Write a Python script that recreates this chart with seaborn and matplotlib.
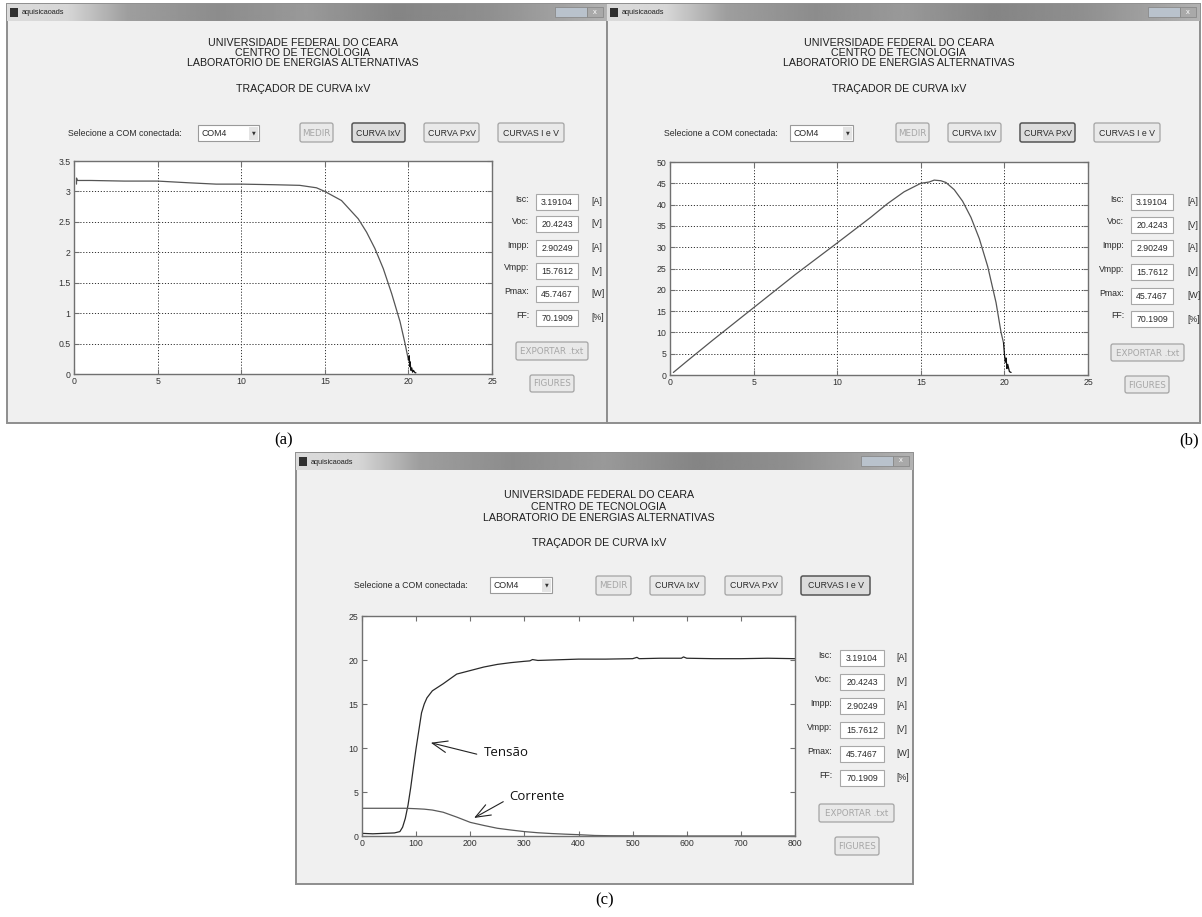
import numpy as np
import matplotlib
matplotlib.use("Agg")
import matplotlib.pyplot as plt
from matplotlib.patches import Rectangle, FancyBboxPatch
import seaborn as sns

# ---------------- data ----------------
iv_voltage = [0.15, 0.15, 0.2, 1, 3, 5, 7, 8.5, 10, 12, 13.5, 14.5, 15, 16, 17, 17.5, 18, 18.5, 19, 19.5, 19.8, 20.0]
iv_current = [3.12, 3.22, 3.18, 3.18, 3.17, 3.17, 3.14, 3.12, 3.12, 3.11, 3.10, 3.06, 3.0, 2.85, 2.55, 2.33, 2.06, 1.73, 1.32, 0.86, 0.5, 0.23]
iv_tail_v = [20.0, 20.05, 20.08, 20.1, 20.15, 20.2, 20.25, 20.3, 20.4, 20.45]
iv_tail_i = [0.23, 0.3, 0.12, 0.2, 0.06, 0.1, 0.03, 0.06, 0.02, 0.02]

pv_voltage = [0.2, 1, 2.5, 5, 7.5, 10, 12, 13, 14, 15, 15.5, 15.8, 16.2, 16.5, 17, 17.5, 18, 18.5, 19, 19.5, 19.8, 19.95]
pv_power = [0.6, 3.2, 8.0, 15.8, 23.6, 31.0, 37.0, 40.2, 43.0, 45.0, 45.3, 45.75, 45.6, 45.2, 43.5, 40.8, 37.0, 32.0, 25.5, 17.0, 10.0, 7.5]
pv_tail_v = [19.95, 20.0, 20.05, 20.1, 20.15, 20.2, 20.3, 20.4]
pv_tail_p = [7.5, 5.0, 3.0, 4.0, 1.5, 2.5, 0.8, 0.6]

t_tensao = [0, 20, 40, 60, 70, 75, 80, 85, 90, 95, 100, 105, 110, 115, 120, 130, 150, 175, 200, 225,
            250, 275, 300, 310, 315, 325, 350, 400, 450, 500, 508, 512, 550, 590, 594, 600, 650, 700, 750, 800]
tensao = [0.3, 0.25, 0.3, 0.35, 0.5, 1.0, 2.0, 3.5, 5.5, 7.8, 10.0, 12.0, 14.0, 15.0, 15.7, 16.5, 17.3, 18.4, 18.8, 19.2,
          19.5, 19.7, 19.85, 19.9, 20.05, 19.95, 20.0, 20.1, 20.1, 20.15, 20.3, 20.15, 20.2, 20.2, 20.35, 20.2, 20.15, 20.15, 20.2, 20.15]
t_corrente = [0, 50, 80, 100, 115, 130, 150, 175, 200, 225, 250, 275, 300, 325, 350, 375, 400, 430, 460, 500, 600, 800]
corrente = [3.15, 3.15, 3.15, 3.1, 3.05, 2.95, 2.7, 2.15, 1.55, 1.2, 0.88, 0.68, 0.5, 0.37, 0.28, 0.21, 0.15, 0.06, 0.03, 0.02, 0.0, 0.0]

param_labels = ["Isc:", "Voc:", "Impp:", "Vmpp:", "Pmax:", "FF:"]
param_values = ["3.19104", "20.4243", "2.90249", "15.7612", "45.7467", "70.1909"]
param_units = ["[A]", "[V]", "[A]", "[V]", "[W]", "[%]"]
header_lines = ["UNIVERSIDADE FEDERAL DO CEARA", "CENTRO DE TECNOLOGIA",
                "LABORATORIO DE ENERGIAS ALTERNATIVAS", "TRAÇADOR DE CURVA IxV"]
button_labels = ["MEDIR", "CURVA IxV", "CURVA PxV", "CURVAS I e V"]
panel_letters = ["(a)", "(b)", "(c)"]

# ---------------- layout (pixels) ----------------
W, H = 1202, 917
panels = [
    dict(win=(7, 4, 607, 423), hcx=303, hy=[43, 53, 63, 89], sel=(68, 133), combo=(198, 259, 125, 141),
         btns=[(300, 333), (352, 405), (424, 479), (498, 564)], by=(123, 142), pressed=1,
         ax=(74, 161, 492, 374), lab=529, box=(536, 578), unit=591, rows=[202, 224, 248, 271, 294, 318],
         exp=(516, 342, 588, 360), fig=(530, 375, 574, 392), letter=(284, 440)),
    dict(win=(607, 4, 1200, 423), hcx=899, hy=[43, 53, 63, 89], sel=(664, 133), combo=(790, 853, 125, 141),
         btns=[(896, 929), (948, 1001), (1020, 1075), (1094, 1160)], by=(123, 142), pressed=2,
         ax=(670, 162, 1088, 375), lab=1124, box=(1131, 1173), unit=1187, rows=[202, 225, 248, 272, 296, 319],
         exp=(1111, 344, 1184, 361), fig=(1125, 376, 1169, 393), letter=(1189, 440)),
    dict(win=(296, 453, 913, 884), hcx=599, hy=[495, 507, 518, 543], sel=(354, 585), combo=(490, 552, 577, 593),
         btns=[(596, 631), (650, 705), (725, 782), (801, 870)], by=(576, 595), pressed=3,
         ax=(362, 616, 795, 836), lab=832, box=(840, 884), unit=896, rows=[658, 682, 706, 730, 754, 778],
         exp=(819, 804, 894, 822), fig=(835, 837, 879, 855), letter=(605, 900)),
]

sns.set_theme(style="white")
plt.rcParams['font.family'] = ['Liberation Sans', 'DejaVu Sans']

fig = plt.figure(figsize=(W / 100, H / 100), dpi=100)
fig.patch.set_facecolor('white')
bg = fig.add_axes([0, 0, 1, 1], zorder=-10)
bg.set_autoscale_on(False)
bg.set_xlim(0, W)
bg.set_ylim(H, 0)
bg.axis('off')

UI = 6.3
txtc = '#2a2a2a'


def rect(x0, y0, x1, y1, fc, ec='none', lw=1.0, z=1):
    bg.add_patch(Rectangle((x0, y0), x1 - x0, y1 - y0, facecolor=fc, edgecolor=ec, lw=lw, zorder=z))


def button(x0, y0, x1, y1, label, pressed=False, disabled=False):
    fc = '#dcdcdc' if pressed else '#e9e9e9'
    ec = '#555555' if pressed else '#a4a4a4'
    bg.add_patch(FancyBboxPatch((x0, y0), x1 - x0, y1 - y0, boxstyle="round,pad=0,rounding_size=2",
                                facecolor=fc, edgecolor=ec, lw=1.1 if pressed else 0.9, zorder=3))
    bg.text((x0 + x1) / 2, (y0 + y1) / 2 + 0.5, label, ha='center', va='center', fontsize=UI,
            family=['DejaVu Sans'] if disabled else ['Liberation Sans', 'DejaVu Sans'],
            color='#a6a6a6' if disabled else txtc, zorder=4)


grad_profile = np.interp(np.linspace(0, 1, 300), [0, 0.1, 0.2, 0.35, 0.5, 0.65, 0.8, 0.9, 1.0],
                         [0.86, 0.84, 0.62, 0.55, 0.6, 0.52, 0.56, 0.62, 0.7])

for p in panels:
    x0, y0, x1, y1 = p['win']
    rect(x0, y0, x1, y1, '#f0f0f0', '#8e8e8e', 1.4, z=1)
    bg.imshow(np.tile(grad_profile, (4, 1)), cmap='gray', vmin=0, vmax=1, aspect='auto',
              extent=(x0, x1, y0 + 17, y0), zorder=2, interpolation='bilinear')
    rect(x0 + 3, y0 + 4, x0 + 11, y0 + 13, '#303030', z=3)
    bg.text(x0 + 15, y0 + 9, "aquisicaoads", fontsize=5.3, color='#222222', va='center', ha='left', zorder=3)
    rect(x1 - 52, y0 + 3, x1 - 20, y0 + 13, '#b9c2cc', '#8a8a8a', 0.6, z=3)
    rect(x1 - 20, y0 + 3, x1 - 4, y0 + 13, '#a9a9a9', '#8a8a8a', 0.6, z=3)
    bg.text(x1 - 12, y0 + 8, "x", fontsize=5.5, color='white', ha='center', va='center', zorder=4)
    for line, yy in zip(header_lines, p['hy']):
        bg.text(p['hcx'], yy, line, ha='center', va='center', fontsize=7.7, color='#1e1e1e', zorder=3)
    sx, sy = p['sel']
    bg.text(sx, sy, "Selecione a COM conectada:", ha='left', va='center', fontsize=UI, color=txtc, zorder=3)
    c0, c1, cy0, cy1 = p['combo']
    rect(c0, cy0, c1, cy1, 'white', '#9a9a9a', 0.8, z=3)
    rect(c1 - 10, cy0 + 1.5, c1 - 1.5, cy1 - 1.5, '#e4e4e4', 'none', z=3)
    bg.text(c0 + 4, (cy0 + cy1) / 2 + 0.5, "COM4", ha='left', va='center', fontsize=UI, color=txtc, zorder=4)
    bg.text(c1 - 5.5, (cy0 + cy1) / 2, "▼", ha='center', va='center', fontsize=3.5, color='#333333',
            family='DejaVu Sans', zorder=4)
    for i, (bx0, bx1) in enumerate(p['btns']):
        button(bx0, p['by'][0], bx1, p['by'][1], button_labels[i], pressed=(i == p['pressed']), disabled=(i == 0))
    for lab, val, un, yy in zip(param_labels, param_values, param_units, p['rows']):
        bg.text(p['lab'], yy - 3, lab, ha='right', va='center', fontsize=UI, color=txtc, zorder=3)
        rect(p['box'][0], yy - 8, p['box'][1], yy + 8, 'white', '#a8a8a8', 0.8, z=3)
        bg.text((p['box'][0] + p['box'][1]) / 2, yy + 0.5, val, ha='center', va='center', fontsize=UI,
                color=txtc, zorder=4)
        bg.text(p['unit'], yy, un, ha='left', va='center', fontsize=UI, color=txtc, zorder=3)
    button(*p['exp'][:2], *p['exp'][2:], "EXPORTAR .txt", disabled=True)
    button(*p['fig'][:2], *p['fig'][2:], "FIGURES", disabled=True)

for p, letter in zip(panels, panel_letters):
    bg.text(p['letter'][0], p['letter'][1], letter, ha='center', va='center', fontsize=12,
            family='Liberation Serif', color='black', zorder=3)


def make_axes(p):
    x0, y0, x1, y1 = p['ax']
    ax = fig.add_axes([x0 / W, 1 - y1 / H, (x1 - x0) / W, (y1 - y0) / H], zorder=1)
    ax.set_facecolor('white')
    for s in ax.spines.values():
        s.set_color('#707070')
        s.set_linewidth(1.0)
        s.set_visible(True)
    ax.tick_params(direction='in', length=3.5, width=0.8, color='#707070', top=True, right=True,
                   bottom=True, left=True, labelsize=6.3, labelcolor='#333333', pad=2.5)
    return ax


def fmt(v):
    return ("%g" % v)


axa = make_axes(panels[0])
sns.lineplot(x=iv_voltage, y=iv_current, ax=axa, color='#555555', lw=0.9, sort=False, estimator=None)
sns.lineplot(x=iv_tail_v, y=iv_tail_i, ax=axa, color='#111111', lw=0.9, sort=False, estimator=None)
axa.set_xlim(0, 25)
axa.set_ylim(0, 3.5)
xt = [0, 5, 10, 15, 20, 25]
yt = [0, 0.5, 1, 1.5, 2, 2.5, 3, 3.5]
axa.set_xticks(xt, [fmt(v) for v in xt])
axa.set_yticks(yt, [fmt(v) for v in yt])
axa.grid(True, linestyle=(0, (1.2, 1.8)), color='#333333', linewidth=0.7)

axb = make_axes(panels[1])
sns.lineplot(x=pv_voltage, y=pv_power, ax=axb, color='#555555', lw=0.9, sort=False, estimator=None)
sns.lineplot(x=pv_tail_v, y=pv_tail_p, ax=axb, color='#111111', lw=0.9, sort=False, estimator=None)
axb.set_xlim(0, 25)
axb.set_ylim(0, 50)
ytb = list(range(0, 55, 5))
axb.set_xticks(xt, [fmt(v) for v in xt])
axb.set_yticks(ytb, [fmt(v) for v in ytb])
axb.grid(True, linestyle=(0, (1.2, 1.8)), color='#333333', linewidth=0.7)

axc = make_axes(panels[2])
sns.lineplot(x=t_tensao, y=tensao, ax=axc, color='#2a2a2a', lw=0.9, sort=False, estimator=None)
sns.lineplot(x=t_corrente, y=corrente, ax=axc, color='#5a5a5a', lw=0.9, sort=False, estimator=None)
axc.set_xlim(0, 800)
axc.set_ylim(0, 25)
xtc = list(range(0, 900, 100))
ytc = list(range(0, 30, 5))
axc.set_xticks(xtc, [fmt(v) for v in xtc])
axc.set_yticks(ytc, [fmt(v) for v in ytc])
axc.grid(False)
arrow = dict(arrowstyle='->,head_length=0.9,head_width=0.35', color='#222222', lw=0.8, shrinkA=0, shrinkB=0)
axc.annotate("", xy=(127, 10.6), xytext=(212, 9.3), arrowprops=arrow)
axc.text(225, 9.5, "Tensão", ha='left', va='center', fontsize=9.5, family='Open Sans', color='#111111')
axc.annotate("", xy=(207, 2.05), xytext=(261, 3.9), arrowprops=arrow)
axc.text(272, 4.5, "Corrente", ha='left', va='center', fontsize=9.5, family='Open Sans', color='#111111')

fig.savefig("out.png", dpi=100)
